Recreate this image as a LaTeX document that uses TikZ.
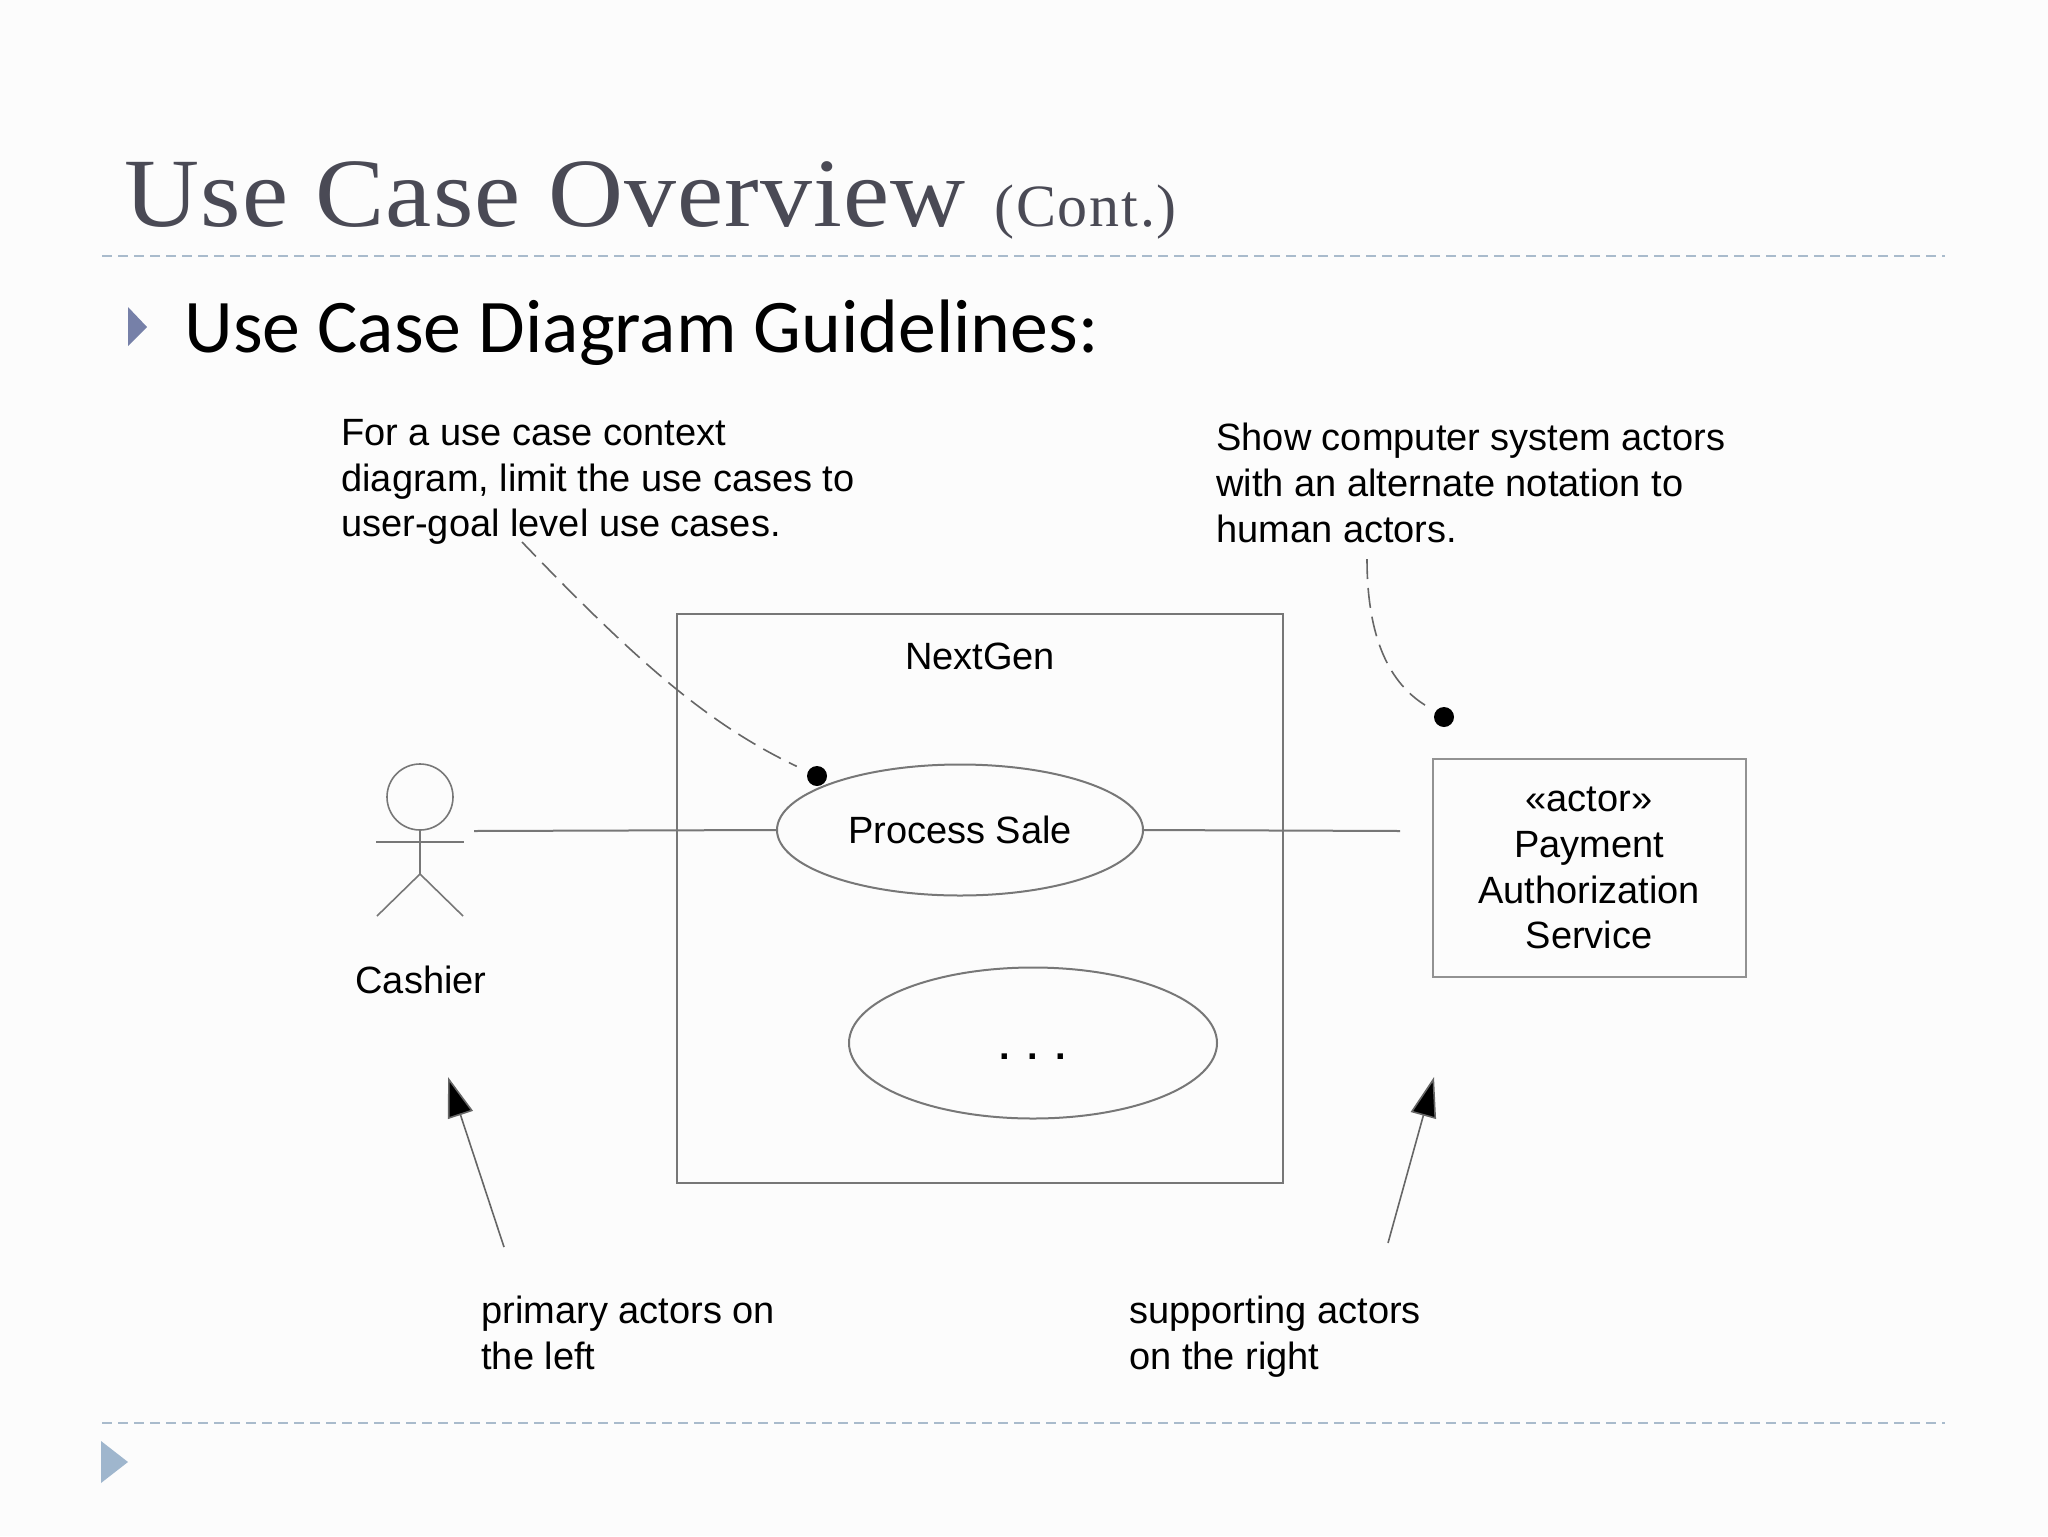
\documentclass[tikz,border=0pt]{standalone}
\usepackage{fontspec}
\usepackage{xcolor}
\usetikzlibrary{shapes.geometric,arrows.meta}
\setmainfont{Liberation Sans}
\newfontfamily\titlefont[FakeStretch=1.06, LetterSpace=1.2]{Liberation Serif}
\newfontfamily\contfont[LetterSpace=3]{Liberation Serif}
\newfontfamily\bulletfont{Carlito}
\definecolor{titlegray}{HTML}{4A4A55}
\definecolor{rulegray}{HTML}{A9BBCC}
\definecolor{bulletblue}{HTML}{7680A8}
\definecolor{footblue}{HTML}{9FB6CD}
\definecolor{linegray}{HTML}{777777}
\tikzset{
  rulestyle/.style={rulegray, line width=1pt, dash pattern=on 5pt off 3pt},
  umlline/.style={linegray, line width=1pt},
  usecase/.style={ellipse, draw=linegray, line width=1pt, inner sep=0pt},
  notetext/.style={anchor=west, align=left, inner sep=0pt, font=\fontsize{19}{22.9}\selectfont},
  notedot/.style={circle, fill=black, inner sep=0pt, minimum size=10pt},
  notelink/.style={black!60, line width=0.8pt, dash pattern=on 10pt off 4.5pt, shorten >=6pt},
  pointer/.style={black!60, line width=0.8pt, -{Stealth[length=20pt, width=13pt, inset=0pt, fill=black]}}
}
\begin{document}
\begin{tikzpicture}[x=0.5pt, y=-0.5pt]
  \fill [white!99!black] (0, 0) rectangle (2048, 1536);
  \useasboundingbox (0, 0) rectangle (2048, 1536);
  % slide header
  \node (title) [anchor=base west, inner sep=0pt, text=titlegray] at (124, 226) {\titlefont\fontsize{49}{49}\selectfont Use Case Overview};
  \node (cont) [anchor=base west, inner sep=0pt, text=titlegray] at (994, 226) {\contfont\fontsize{30}{30}\selectfont (Cont.)};
  \draw [rulestyle] (102, 256) -- (1945, 256);
  \fill [bulletblue] (128, 307) -- (147, 327) -- (128, 346) -- cycle;
  \node (heading) [anchor=base west, inner sep=0pt] at (184, 352) {\bulletfont\fontsize{37.9}{38}\selectfont Use Case Diagram Guidelines:};
  % system boundary and use cases
  \node (system) [draw=linegray, line width=1pt, minimum width=303pt, minimum height=284.5pt, inner sep=0pt] at (980, 898) {};
  \node (sysname) [inner sep=0pt, font=\fontsize{19}{22.9}\selectfont] at (980, 656) {NextGen};
  \node (sale) [usecase, minimum width=183pt, minimum height=65.5pt, font=\fontsize{19}{22.9}\selectfont] at (960, 830) {Process Sale};
  \node (other) [usecase, minimum width=184pt, minimum height=75.5pt] at (1033, 1043) {};
  \node (dots) [anchor=base, inner sep=0pt, font=\fontsize{19}{22.9}\selectfont\bfseries] at (1033, 1059) {.\hspace{8.7pt}.\hspace{8.7pt}.};
  % primary actor
  \node (head) [circle, draw=linegray, line width=0.8pt, minimum size=33pt, inner sep=0pt] at (420, 797) {};
  \coordinate (armL) at (376, 842);
  \coordinate (armR) at (464, 842);
  \coordinate (hip) at (420, 874);
  \coordinate (footL) at (377, 916);
  \coordinate (footR) at (463, 916);
  \draw [umlline, line width=0.8pt] (head.south) -- (hip);
  \draw [umlline, line width=0.8pt] (armL) -- (armR);
  \draw [umlline, line width=0.8pt] (footL) -- (hip) -- (footR);
  \node (cashier) [inner sep=0pt, font=\fontsize{19}{22.9}\selectfont] at (421, 980) {Cashier};
  % supporting actor
  \node (payment) [draw=linegray!80, line width=1pt, minimum width=156.5pt, minimum height=109pt, inner sep=0pt, align=center, font=\fontsize{19}{22.9}\selectfont] at (1589, 868) {«actor»\\Payment\\Authorization\\Service};
  \coordinate (actorEnd) at (474, 831);
  \coordinate (serviceEnd) at (1400, 831);
  \draw [umlline] (actorEnd) -- (sale.west);
  \draw [umlline] (sale.east) -- (serviceEnd);
  % notes
  \node (noteA) [notetext] at (341, 482) {For a use case context\\diagram, limit the use cases to\\user-goal level use cases.};
  \node (noteB) [notetext] at (1216, 483) {Show computer system actors\\with an alternate notation to\\human actors.};
  \node (noteC) [notetext] at (481, 1333) {primary actors on\\the left};
  \node (noteD) [notetext] at (1129, 1337) {supporting actors\\on the right};
  \node (dotA) [notedot] at (817, 776) {};
  \node (dotB) [notedot] at (1444, 717) {};
  \coordinate (linkA) at (522, 542);
  \coordinate (linkB) at (1367, 559);
  \draw [notelink] (linkA) .. controls (640, 665) and (710, 725) .. (dotA);
  \draw [notelink] (linkB) .. controls (1367, 630) and (1385, 680) .. (dotB);
  % arrows from the notes
  \coordinate (ptrA) at (504, 1247);
  \coordinate (tipA) at (448, 1077);
  \coordinate (ptrB) at (1388, 1243);
  \coordinate (tipB) at (1434, 1077);
  \draw [pointer] (ptrA) -- (tipA);
  \draw [pointer] (ptrB) -- (tipB);
  % slide footer
  \draw [rulestyle] (102, 1423) -- (1945, 1423);
  \fill [footblue] (101, 1441) -- (128, 1462) -- (101, 1483) -- cycle;
\end{tikzpicture}
\end{document}
